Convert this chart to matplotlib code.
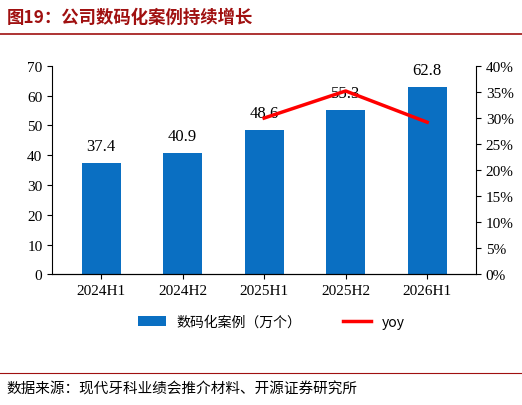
import matplotlib.pyplot as plt

plt.rcParams['font.family'] = ['Liberation Serif', 'Noto Sans CJK SC']

periods = ["2024H1", "2024H2", "2025H1", "2025H2", "2026H1"]
cases = [37.4, 40.9, 48.6, 55.3, 62.8]
yoy_periods = ["2025H1", "2025H2", "2026H1"]
yoy = [0.300, 0.352, 0.292]

fig = plt.figure(figsize=(5.22, 4.06), dpi=100)
ax = fig.add_axes([0.10, 0.322, 0.812, 0.513])
x = list(range(len(periods)))
bars = ax.bar(x, cases, width=0.48, color="#0a6fc2", label="数码化案例（万个）")
for xi, v in zip(x, cases):
    ax.text(xi, v + 3, f"{v}", ha="center", va="bottom", fontsize=12)
ax.set_ylim(0, 70)
ax.set_yticks(range(0, 71, 10))
ax.set_xticks(x)
ax.set_xticklabels(periods)
ax.set_xlim(-0.6, 4.6)
for s in ["top", "right"]:
    ax.spines[s].set_visible(False)
ax.tick_params(labelsize=11)

ax2 = ax.twinx()
xi_yoy = [periods.index(p) for p in yoy_periods]
line, = ax2.plot(xi_yoy, yoy, color="#ff0000", linewidth=2.5, label="yoy")
ax2.set_ylim(0, 0.4)
ax2.set_yticks([i * 0.05 for i in range(9)])
ax2.set_yticklabels([f"{i*5}%" for i in range(9)])
ax2.tick_params(labelsize=11)
for s in ["top", "left"]:
    ax2.spines[s].set_visible(False)

fig.legend([bars, line], ["数码化案例（万个）", "yoy"], loc="center",
           bbox_to_anchor=(0.52, 0.205), ncol=2, frameon=False,
           prop={'family': ['Noto Sans CJK SC'], 'size': 10}, columnspacing=3)

fig.text(0.012, 0.955, "图19：公司数码化案例持续增长", fontsize=12.5, fontweight="bold",
         color="#a01010", family=['Noto Sans CJK SC'], va="center")
fig.add_artist(plt.Line2D([0, 1], [0.915, 0.915], color="#a01010", linewidth=1.2))
fig.add_artist(plt.Line2D([0, 1], [0.078, 0.078], color="#a01010", linewidth=0.8))
fig.text(0.012, 0.04, "数据来源：现代牙科业绩会推介材料、开源证券研究所", fontsize=10.5,
         family=['Noto Sans CJK SC'], va="center")

fig.savefig("out.png")
